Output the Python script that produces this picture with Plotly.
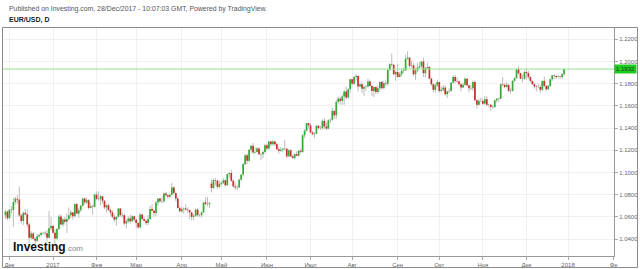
import numpy as np
import pandas as pd
import plotly.graph_objects as go

# ---------------- data (EUR/USD daily, 29 Nov 2016 - 28 Dec 2017) ----------------
dates = pd.bdate_range("2016-11-29", "2017-12-28")

opens = [
    1.0613, 1.0647,
    1.0588, 1.0664, 1.0662, 1.0734, 1.0763, 1.0756, 1.0613, 1.0562, 1.0636, 1.0623, 1.0531, 1.0411, 1.0451, 1.0402, 1.0385, 1.0425, 1.0436, 1.0454, 1.0457, 1.0453, 1.0412, 1.0497,
    1.0518, 1.0457, 1.0405, 1.0490, 1.0604, 1.0530, 1.0575, 1.0555, 1.0580, 1.0615, 1.0640, 1.0605, 1.0715, 1.0630, 1.0660, 1.0700, 1.0765, 1.0730, 1.0750, 1.0680, 1.0695, 1.0690,
    1.0800, 1.0760, 1.0760, 1.0785, 1.0745, 1.0685, 1.0705, 1.0660, 1.0640, 1.0600, 1.0575, 1.0600, 1.0675, 1.0615, 1.0615, 1.0540, 1.0560, 1.0585, 1.0560, 1.0605,
    1.0575, 1.0545, 1.0505, 1.0620, 1.0580, 1.0565, 1.0545, 1.0580, 1.0670, 1.0655, 1.0635, 1.0730, 1.0765, 1.0740, 1.0740, 1.0810, 1.0795, 1.0780, 1.0800, 1.0865, 1.0815, 1.0765, 1.0680,
    1.0650, 1.0670, 1.0675, 1.0665, 1.0660, 1.0640, 1.0600, 1.0610, 1.0665, 1.0615, 1.0615, 1.0640, 1.0730, 1.0715, 1.0715, 1.0900, 1.0860, 1.0930, 1.0925, 1.0870,
    1.0895, 1.0905, 1.0930, 1.0885, 1.0985, 1.0995, 1.0925, 1.0875, 1.0865, 1.0865, 1.0935, 1.0980, 1.1075, 1.1155, 1.1105, 1.1205, 1.1240, 1.1180, 1.1185, 1.1215, 1.1165, 1.1165, 1.1185,
    1.1245, 1.1215, 1.1280, 1.1255, 1.1280, 1.1255, 1.1210, 1.1195, 1.1205, 1.1215, 1.1215, 1.1145, 1.1200, 1.1145, 1.1130, 1.1165, 1.1150, 1.1195, 1.1185, 1.1335, 1.1375, 1.1445,
    1.1425, 1.1360, 1.1345, 1.1350, 1.1420, 1.1400, 1.1400, 1.1465, 1.1415, 1.1395, 1.1470, 1.1475, 1.1555, 1.1515, 1.1635, 1.1665, 1.1645, 1.1685, 1.1730, 1.1675, 1.1750,
    1.1840, 1.1800, 1.1860, 1.1870, 1.1775, 1.1795, 1.1755, 1.1770, 1.1775, 1.1820, 1.1780, 1.1735, 1.1770, 1.1725, 1.1760, 1.1815, 1.1760, 1.1805, 1.1800, 1.1925, 1.1975, 1.1970, 1.1885,
    1.1905, 1.1860, 1.1885, 1.1915, 1.1920, 1.2025, 1.2035, 1.1960, 1.1965, 1.1885, 1.1920, 1.1945, 1.1955, 1.2000, 1.1895, 1.1940, 1.1950, 1.1845, 1.1795, 1.1745, 1.1785,
    1.1815, 1.1735, 1.1745, 1.1765, 1.1705, 1.1730, 1.1735, 1.1810, 1.1860, 1.1825, 1.1820, 1.1795, 1.1765, 1.1790, 1.1845, 1.1785, 1.1760, 1.1760, 1.1815, 1.1650, 1.1610, 1.1645,
    1.1645, 1.1620, 1.1660, 1.1610, 1.1610, 1.1590, 1.1590, 1.1650, 1.1665, 1.1665, 1.1795, 1.1790, 1.1770, 1.1790, 1.1735, 1.1735, 1.1825, 1.1850, 1.1930, 1.1895, 1.1845, 1.1845,
    1.1905, 1.1895, 1.1860, 1.1825, 1.1795, 1.1775, 1.1770, 1.1770, 1.1745, 1.1825, 1.1780, 1.1750, 1.1780, 1.1840, 1.1875, 1.1870, 1.1860, 1.1865, 1.1860, 1.1885,
]

highs = [
    1.0665, 1.0655,
    1.0670, 1.0695, 1.0770, 1.0780, 1.0795, 1.0874, 1.0625, 1.0650, 1.0670, 1.0665, 1.0545, 1.0470, 1.0460, 1.0415, 1.0445, 1.0450, 1.0465, 1.0465, 1.0470, 1.0480, 1.0655, 1.0600,
    1.0530, 1.0485, 1.0500, 1.0620, 1.0625, 1.0590, 1.0600, 1.0630, 1.0685, 1.0660, 1.0640, 1.0720, 1.0725, 1.0680, 1.0710, 1.0775, 1.0775, 1.0775, 1.0760, 1.0725, 1.0710, 1.0810,
    1.0830, 1.0830, 1.0795, 1.0790, 1.0750, 1.0710, 1.0720, 1.0675, 1.0660, 1.0620, 1.0610, 1.0680, 1.0680, 1.0640, 1.0630, 1.0575, 1.0605, 1.0620, 1.0615, 1.0610,
    1.0580, 1.0550, 1.0635, 1.0625, 1.0600, 1.0575, 1.0615, 1.0700, 1.0715, 1.0665, 1.0745, 1.0765, 1.0770, 1.0780, 1.0820, 1.0825, 1.0805, 1.0815, 1.0905, 1.0875, 1.0820, 1.0780, 1.0695,
    1.0690, 1.0685, 1.0715, 1.0685, 1.0665, 1.0640, 1.0625, 1.0675, 1.0680, 1.0625, 1.0650, 1.0735, 1.0775, 1.0780, 1.0735, 1.0937, 1.0945, 1.0950, 1.0935, 1.0930,
    1.0920, 1.0950, 1.0935, 1.0990, 1.1000, 1.1025, 1.0935, 1.0905, 1.0885, 1.0945, 1.0985, 1.1085, 1.1165, 1.1170, 1.1210, 1.1245, 1.1265, 1.1225, 1.1230, 1.1225, 1.1175, 1.1195, 1.1255,
    1.1260, 1.1285, 1.1285, 1.1295, 1.1285, 1.1270, 1.1230, 1.1230, 1.1220, 1.1295, 1.1215, 1.1210, 1.1210, 1.1160, 1.1170, 1.1190, 1.1200, 1.1215, 1.1345, 1.1390, 1.1445, 1.1445,
    1.1445, 1.1375, 1.1365, 1.1430, 1.1430, 1.1420, 1.1480, 1.1490, 1.1450, 1.1480, 1.1485, 1.1585, 1.1560, 1.1655, 1.1685, 1.1680, 1.1700, 1.1740, 1.1775, 1.1760, 1.1845,
    1.1845, 1.1865, 1.1885, 1.1880, 1.1810, 1.1820, 1.1780, 1.1785, 1.1845, 1.1835, 1.1790, 1.1780, 1.1775, 1.1785, 1.1820, 1.1825, 1.1825, 1.1830, 1.1940, 1.1985, 1.2070, 1.1980, 1.1915,
    1.1980, 1.1905, 1.1935, 1.1945, 1.2060, 1.2092, 1.2035, 1.2005, 1.1985, 1.1945, 1.1985, 1.1995, 1.2005, 1.2035, 1.1950, 1.1990, 1.1960, 1.1855, 1.1800, 1.1805, 1.1835,
    1.1820, 1.1775, 1.1790, 1.1785, 1.1735, 1.1760, 1.1815, 1.1875, 1.1880, 1.1860, 1.1830, 1.1800, 1.1805, 1.1860, 1.1850, 1.1790, 1.1790, 1.1830, 1.1830, 1.1660, 1.1665, 1.1675,
    1.1665, 1.1690, 1.1685, 1.1620, 1.1615, 1.1610, 1.1655, 1.1670, 1.1675, 1.1800, 1.1860, 1.1805, 1.1820, 1.1795, 1.1760, 1.1835, 1.1860, 1.1940, 1.1960, 1.1900, 1.1880, 1.1915,
    1.1940, 1.1915, 1.1865, 1.1830, 1.1810, 1.1790, 1.1800, 1.1790, 1.1830, 1.1865, 1.1790, 1.1790, 1.1845, 1.1880, 1.1885, 1.1875, 1.1875, 1.1870, 1.1895, 1.1935,
]

lows = [
    1.0580, 1.0570,
    1.0585, 1.0630, 1.0505, 1.0710, 1.0715, 1.0600, 1.0540, 1.0525, 1.0615, 1.0505, 1.0365, 1.0395, 1.0395, 1.0352, 1.0370, 1.0410, 1.0425, 1.0440, 1.0430, 1.0375, 1.0405, 1.0480,
    1.0450, 1.0340, 1.0390, 1.0480, 1.0525, 1.0510, 1.0530, 1.0455, 1.0570, 1.0590, 1.0575, 1.0600, 1.0625, 1.0590, 1.0645, 1.0690, 1.0710, 1.0715, 1.0665, 1.0675, 1.0620, 1.0685,
    1.0755, 1.0745, 1.0705, 1.0715, 1.0670, 1.0640, 1.0655, 1.0610, 1.0590, 1.0555, 1.0520, 1.0595, 1.0600, 1.0590, 1.0525, 1.0495, 1.0545, 1.0540, 1.0555, 1.0555,
    1.0495, 1.0495, 1.0495, 1.0565, 1.0560, 1.0525, 1.0525, 1.0575, 1.0650, 1.0600, 1.0605, 1.0700, 1.0725, 1.0725, 1.0725, 1.0780, 1.0760, 1.0770, 1.0795, 1.0800, 1.0740, 1.0675, 1.0640,
    1.0640, 1.0630, 1.0655, 1.0635, 1.0580, 1.0570, 1.0570, 1.0600, 1.0600, 1.0600, 1.0595, 1.0635, 1.0705, 1.0695, 1.0680, 1.0820, 1.0850, 1.0885, 1.0850, 1.0860,
    1.0885, 1.0895, 1.0870, 1.0880, 1.0950, 1.0915, 1.0865, 1.0840, 1.0840, 1.0860, 1.0925, 1.0965, 1.1070, 1.1075, 1.1095, 1.1180, 1.1165, 1.1170, 1.1180, 1.1160, 1.1110, 1.1130, 1.1170,
    1.1200, 1.1205, 1.1235, 1.1245, 1.1235, 1.1200, 1.1170, 1.1185, 1.1185, 1.1195, 1.1130, 1.1140, 1.1140, 1.1120, 1.1120, 1.1150, 1.1145, 1.1170, 1.1180, 1.1310, 1.1370, 1.1395,
    1.1355, 1.1335, 1.1310, 1.1345, 1.1390, 1.1385, 1.1385, 1.1390, 1.1385, 1.1390, 1.1445, 1.1465, 1.1485, 1.1480, 1.1620, 1.1610, 1.1610, 1.1610, 1.1655, 1.1665, 1.1720,
    1.1780, 1.1790, 1.1825, 1.1730, 1.1770, 1.1715, 1.1690, 1.1735, 1.1765, 1.1775, 1.1690, 1.1680, 1.1705, 1.1710, 1.1735, 1.1745, 1.1750, 1.1780, 1.1780, 1.1915, 1.1955, 1.1880, 1.1825,
    1.1855, 1.1860, 1.1865, 1.1895, 1.1915, 1.2015, 1.1945, 1.1945, 1.1870, 1.1835, 1.1905, 1.1935, 1.1945, 1.1860, 1.1860, 1.1935, 1.1840, 1.1780, 1.1720, 1.1720, 1.1770,
    1.1715, 1.1725, 1.1730, 1.1690, 1.1670, 1.1715, 1.1730, 1.1800, 1.1805, 1.1810, 1.1780, 1.1730, 1.1760, 1.1780, 1.1775, 1.1720, 1.1740, 1.1735, 1.1640, 1.1575, 1.1600, 1.1630,
    1.1610, 1.1610, 1.1600, 1.1585, 1.1555, 1.1575, 1.1580, 1.1630, 1.1635, 1.1655, 1.1780, 1.1760, 1.1765, 1.1725, 1.1710, 1.1730, 1.1815, 1.1845, 1.1880, 1.1840, 1.1810, 1.1835,
    1.1840, 1.1845, 1.1810, 1.1790, 1.1755, 1.1730, 1.1765, 1.1715, 1.1735, 1.1775, 1.1730, 1.1740, 1.1770, 1.1825, 1.1840, 1.1840, 1.1850, 1.1845, 1.1840, 1.1870,
]

closes = [
    1.0647, 1.0588,
    1.0664, 1.0662, 1.0734, 1.0763, 1.0756, 1.0613, 1.0562, 1.0636, 1.0623, 1.0531, 1.0411, 1.0451, 1.0402, 1.0385, 1.0425, 1.0436, 1.0454, 1.0457, 1.0453, 1.0412, 1.0497, 1.0518,
    1.0457, 1.0405, 1.0490, 1.0604, 1.0530, 1.0575, 1.0555, 1.0580, 1.0615, 1.0640, 1.0605, 1.0715, 1.0630, 1.0660, 1.0700, 1.0765, 1.0730, 1.0750, 1.0680, 1.0695, 1.0690, 1.0800,
    1.0760, 1.0760, 1.0785, 1.0745, 1.0685, 1.0705, 1.0660, 1.0640, 1.0600, 1.0575, 1.0600, 1.0675, 1.0615, 1.0615, 1.0540, 1.0560, 1.0585, 1.0560, 1.0605, 1.0575,
    1.0545, 1.0505, 1.0620, 1.0580, 1.0565, 1.0545, 1.0580, 1.0670, 1.0655, 1.0635, 1.0730, 1.0765, 1.0740, 1.0740, 1.0810, 1.0795, 1.0780, 1.0800, 1.0865, 1.0815, 1.0765, 1.0680, 1.0650,
    1.0670, 1.0675, 1.0665, 1.0660, 1.0640, 1.0600, 1.0610, 1.0665, 1.0615, 1.0615, 1.0640, 1.0730, 1.0715, 1.0715, 1.0725, 1.0860, 1.0930, 1.0925, 1.0870, 1.0895,
    1.0905, 1.0930, 1.0885, 1.0985, 1.0995, 1.0925, 1.0875, 1.0865, 1.0865, 1.0935, 1.0980, 1.1075, 1.1155, 1.1105, 1.1205, 1.1240, 1.1180, 1.1185, 1.1215, 1.1165, 1.1165, 1.1185, 1.1245,
    1.1215, 1.1280, 1.1255, 1.1280, 1.1255, 1.1210, 1.1195, 1.1205, 1.1215, 1.1215, 1.1145, 1.1200, 1.1145, 1.1130, 1.1165, 1.1150, 1.1195, 1.1185, 1.1335, 1.1375, 1.1445, 1.1425,
    1.1360, 1.1345, 1.1350, 1.1420, 1.1400, 1.1400, 1.1465, 1.1415, 1.1395, 1.1470, 1.1475, 1.1555, 1.1515, 1.1635, 1.1665, 1.1645, 1.1685, 1.1730, 1.1675, 1.1750, 1.1840,
    1.1800, 1.1860, 1.1870, 1.1775, 1.1795, 1.1755, 1.1770, 1.1775, 1.1820, 1.1780, 1.1735, 1.1770, 1.1725, 1.1760, 1.1815, 1.1760, 1.1805, 1.1800, 1.1925, 1.1975, 1.1970, 1.1885, 1.1905,
    1.1860, 1.1885, 1.1915, 1.1920, 1.2025, 1.2035, 1.1960, 1.1965, 1.1885, 1.1920, 1.1945, 1.1955, 1.2000, 1.1895, 1.1940, 1.1950, 1.1845, 1.1795, 1.1745, 1.1785, 1.1815,
    1.1735, 1.1745, 1.1765, 1.1705, 1.1730, 1.1735, 1.1810, 1.1860, 1.1825, 1.1820, 1.1795, 1.1765, 1.1790, 1.1845, 1.1785, 1.1760, 1.1760, 1.1815, 1.1650, 1.1610, 1.1645, 1.1645,
    1.1620, 1.1660, 1.1610, 1.1610, 1.1590, 1.1590, 1.1650, 1.1665, 1.1665, 1.1795, 1.1790, 1.1770, 1.1790, 1.1735, 1.1735, 1.1825, 1.1850, 1.1930, 1.1895, 1.1845, 1.1845, 1.1905,
    1.1895, 1.1860, 1.1825, 1.1795, 1.1775, 1.1770, 1.1770, 1.1745, 1.1825, 1.1780, 1.1750, 1.1780, 1.1840, 1.1875, 1.1870, 1.1860, 1.1865, 1.1860, 1.1885, 1.1932,
]

last_price = 1.1932
y_ticks = [1.04, 1.06, 1.08, 1.10, 1.12, 1.14, 1.16, 1.18, 1.20, 1.22]
month_labels = ["Дек", "2017", "Фев", "Мар", "Апр", "Май", "Июн", "Июл",
                "Авг", "Сен", "Окт", "Ноя", "Дек", "2018", "Фе"]

# ---------------- build ----------------
n = min(len(dates), len(opens), len(highs), len(lows), len(closes))
o = np.array(opens[:n]); h = np.array(highs[:n]); l = np.array(lows[:n]); c = np.array(closes[:n])

# tick positions = first trading bar of each month (bar index axis, weekends skipped)
all_days = pd.bdate_range("2016-11-29", "2018-02-28")
first_of_month = []
seen = set()
for i, d in enumerate(all_days):
    key = (d.year, d.month)
    if key not in seen:
        seen.add(key)
        first_of_month.append(i)
tick_pos = first_of_month[1:1 + len(month_labels)]

UP = "#36a936"
DOWN = "#c8302a"

wx, wy = [], []
ux, uy, dx, dy = [], [], [], []
for i in range(n):
    wx += [i, i, None]
    wy += [l[i], h[i], None]
    lo_b, hi_b = min(o[i], c[i]), max(o[i], c[i])
    if hi_b - lo_b < 0.0003:
        mid = (hi_b + lo_b) / 2
        lo_b, hi_b = mid - 0.00015, mid + 0.00015
    if c[i] >= o[i]:
        ux += [i, i, None]; uy += [lo_b, hi_b, None]
    else:
        dx += [i, i, None]; dy += [lo_b, hi_b, None]

fig = go.Figure()
fig.add_trace(go.Scatter(x=wx, y=wy, mode="lines", line=dict(color="#bdbdbd", width=1),
                         hoverinfo="skip", showlegend=False))
fig.add_trace(go.Scatter(x=ux, y=uy, mode="lines", line=dict(color=UP, width=1.7),
                         hoverinfo="skip", showlegend=False))
fig.add_trace(go.Scatter(x=dx, y=dy, mode="lines", line=dict(color=DOWN, width=1.7),
                         hoverinfo="skip", showlegend=False))

# layout geometry (pixels)
L, R, T, B = 3, 614, 28, 256
W, H = 640, 269
def px(x): return (x - L) / (R - L)
def py(y): return (B - y) / (B - T)

FONT = "Arial, Liberation Sans, sans-serif"

fig.update_layout(
    width=W, height=H,
    margin=dict(l=L, r=W - R, t=T, b=H - B, pad=0, autoexpand=False),
    paper_bgcolor="white", plot_bgcolor="white",
    showlegend=False, hovermode=False,
    font=dict(family=FONT, size=6, color="#666"),
    xaxis=dict(range=[-1.24, 307.2], tickmode="array", tickvals=tick_pos, ticktext=month_labels,
               showgrid=True, gridcolor="#f0f0f0", gridwidth=1, zeroline=False,
               ticks="outside", ticklen=3, tickcolor="#aaa", showline=True, linecolor="#999",
               tickfont=dict(size=6, color="#666", family=FONT), fixedrange=True),
    yaxis=dict(side="right", range=[1.0247, 1.2302], tickmode="array", tickvals=y_ticks,
               ticktext=[f"{v:.4f}" for v in y_ticks],
               showgrid=True, gridcolor="#f0f0f0", gridwidth=1, zeroline=False,
               ticks="outside", ticklen=3, tickcolor="#aaa", showline=True, linecolor="#999",
               tickfont=dict(size=6, color="#666", family=FONT), fixedrange=True),
)

# current price line + label
fig.add_shape(type="line", xref="paper", yref="y", x0=0, x1=1, y0=last_price, y1=last_price,
              line=dict(color="#8ee68e", width=1), layer="above")
fig.add_annotation(xref="paper", yref="y", x=1.0, y=last_price, xanchor="left", yanchor="middle",
                   text=f"{last_price:.4f}", showarrow=False, bgcolor="#1ecb1e",
                   font=dict(size=6, color="#1a3a1a", family=FONT), borderpad=1)

# outer frame
fig.add_shape(type="rect", xref="paper", yref="paper",
              x0=px(2.5), x1=px(637.5), y0=py(267.5), y1=py(27.5),
              line=dict(color="#8c8c8c", width=1), fillcolor="rgba(0,0,0,0)", layer="above")

# header texts
fig.add_annotation(xref="paper", yref="paper", x=px(7), y=py(9), xanchor="left", yanchor="middle",
                   text="Published on Investing.com, 28/Dec/2017 - 10:07:03 GMT, Powered by TradingView.",
                   showarrow=False, font=dict(size=6.9, color="#555", family=FONT))
fig.add_annotation(xref="paper", yref="paper", x=px(7), y=py(20), xanchor="left", yanchor="middle",
                   text="<b>EUR/USD, D</b>", showarrow=False, font=dict(size=7, color="#222", family=FONT))

# logo
fig.add_annotation(xref="paper", yref="paper", x=px(11), y=py(247), xanchor="left", yanchor="middle",
                   text="<b>Investing</b><span style='font-size:8px;color:#888'>.com</span>",
                   showarrow=False,
                   font=dict(size=12, color="#111", family="Liberation Sans Narrow, Arial Narrow, Arial"))

fig.write_html("out.html", config={"displayModeBar": False, "staticPlot": True})
